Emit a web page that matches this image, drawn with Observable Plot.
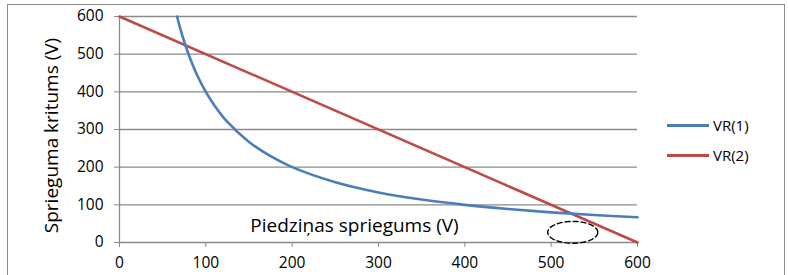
<!DOCTYPE html>
<html><head><meta charset="utf-8">
<script src="https://cdn.jsdelivr.net/npm/d3@7"></script>
<script src="https://cdn.jsdelivr.net/npm/@observablehq/plot@0.6"></script>
<style>
body{margin:0;background:#fff;font-family:"Open Sans","Liberation Sans",sans-serif;}
#wrap{position:relative;width:788px;height:275px;overflow:hidden;}
#frame{position:absolute;left:7px;top:4px;width:778px;height:290px;border:1.5px solid #8a8a8a;box-sizing:border-box;}
#chart{position:absolute;left:0;top:0;}
.leg{position:absolute;left:667px;font-size:15px;color:#000;display:flex;align-items:center;}
.leg span.sw{display:inline-block;width:42px;height:3px;margin-right:4px;}
</style></head>
<body><div id="wrap"><div id="frame"></div><div id="chart"></div>
<div class="leg" style="top:115px"><span class="sw" style="background:#4a7ebb"></span>VR(1)</div>
<div class="leg" style="top:145px"><span class="sw" style="background:#be4b48"></span>VR(2)</div>
</div>
<script>
const xTicks = [0, 100, 200, 300, 400, 500, 600];
const yTicks = [0, 100, 200, 300, 400, 500, 600];
// VR(1)
const vr1X = [66.7, 70, 75, 80, 90, 100, 110, 125, 150, 175, 200, 250, 300, 350, 400, 450, 500, 550, 600];
const vr1Y = [600, 571, 533, 500, 444, 400, 364, 320, 267, 229, 200, 160, 133, 114, 100, 89, 80, 73, 67];
// VR(2)
const vr2X = [0, 600];
const vr2Y = [600, 0];
const seriesNames = ["VR(1)", "VR(2)"];
const xTitle = "Piedziņas spriegums (V)";
const yTitle = "Sprieguma kritums (V)";
// dashed ellipse annotation (center and radii in data units)
const ellipseC = [525, 27];
const ellipseR = [29, 29];

const vr1 = vr1X.map((x, i) => ({x, y: vr1Y[i]}));
const vr2 = vr2X.map((x, i) => ({x, y: vr2Y[i]}));
const ell = d3.range(0, 73).map(i => {
  const t = i / 72 * 2 * Math.PI;
  return {x: ellipseC[0] + ellipseR[0] * Math.cos(t), y: ellipseC[1] + ellipseR[1] * Math.sin(t)};
});

const plot = Plot.plot({
  width: 788, height: 275,
  marginLeft: 119, marginRight: 151, marginTop: 16, marginBottom: 33,
  style: {fontFamily: "'Open Sans', 'Liberation Sans', sans-serif", overflow: "visible", background: "transparent"},
  x: {domain: [0, 600]},
  y: {domain: [0, 600]},
  marks: [
    Plot.ruleY(yTicks.filter(d => d > 0), {stroke: "#8a8a8a", strokeWidth: 1.3}),
    Plot.ruleY([0], {stroke: "#8a8a8a", strokeWidth: 1.3}),
    Plot.ruleX([0], {stroke: "#8a8a8a", strokeWidth: 1.3}),
    Plot.axisY({ticks: yTicks, tickSize: 5, tickPadding: 11, fontSize: 15.5, label: null, stroke: "#8a8a8a", color: "#000"}),
    Plot.axisX({ticks: xTicks, tickSize: 5, tickPadding: 9, fontSize: 15.5, label: null, stroke: "#8a8a8a", color: "#000"}),
    Plot.line(vr2, {x: "x", y: "y", stroke: "#be4b48", strokeWidth: 2.6}),
    Plot.line(vr1, {x: "x", y: "y", stroke: "#4a7ebb", strokeWidth: 2.6, curve: "catmull-rom"}),
    Plot.line(ell, {x: "x", y: "y", stroke: "#000", strokeWidth: 1.4, strokeDasharray: "5,3"}),
    Plot.text([xTitle], {text: d => d, frameAnchor: "bottom", dx: -24, dy: -11, fontSize: 19, fill: "#000"}),
    Plot.text([yTitle], {text: d => d, frameAnchor: "left", textAnchor: "middle", lineAnchor: "middle", rotate: -90, dx: -68, dy: 6, fontSize: 19, fill: "#000"})
  ]
});
document.getElementById("chart").appendChild(plot);
</script>
</body></html>
